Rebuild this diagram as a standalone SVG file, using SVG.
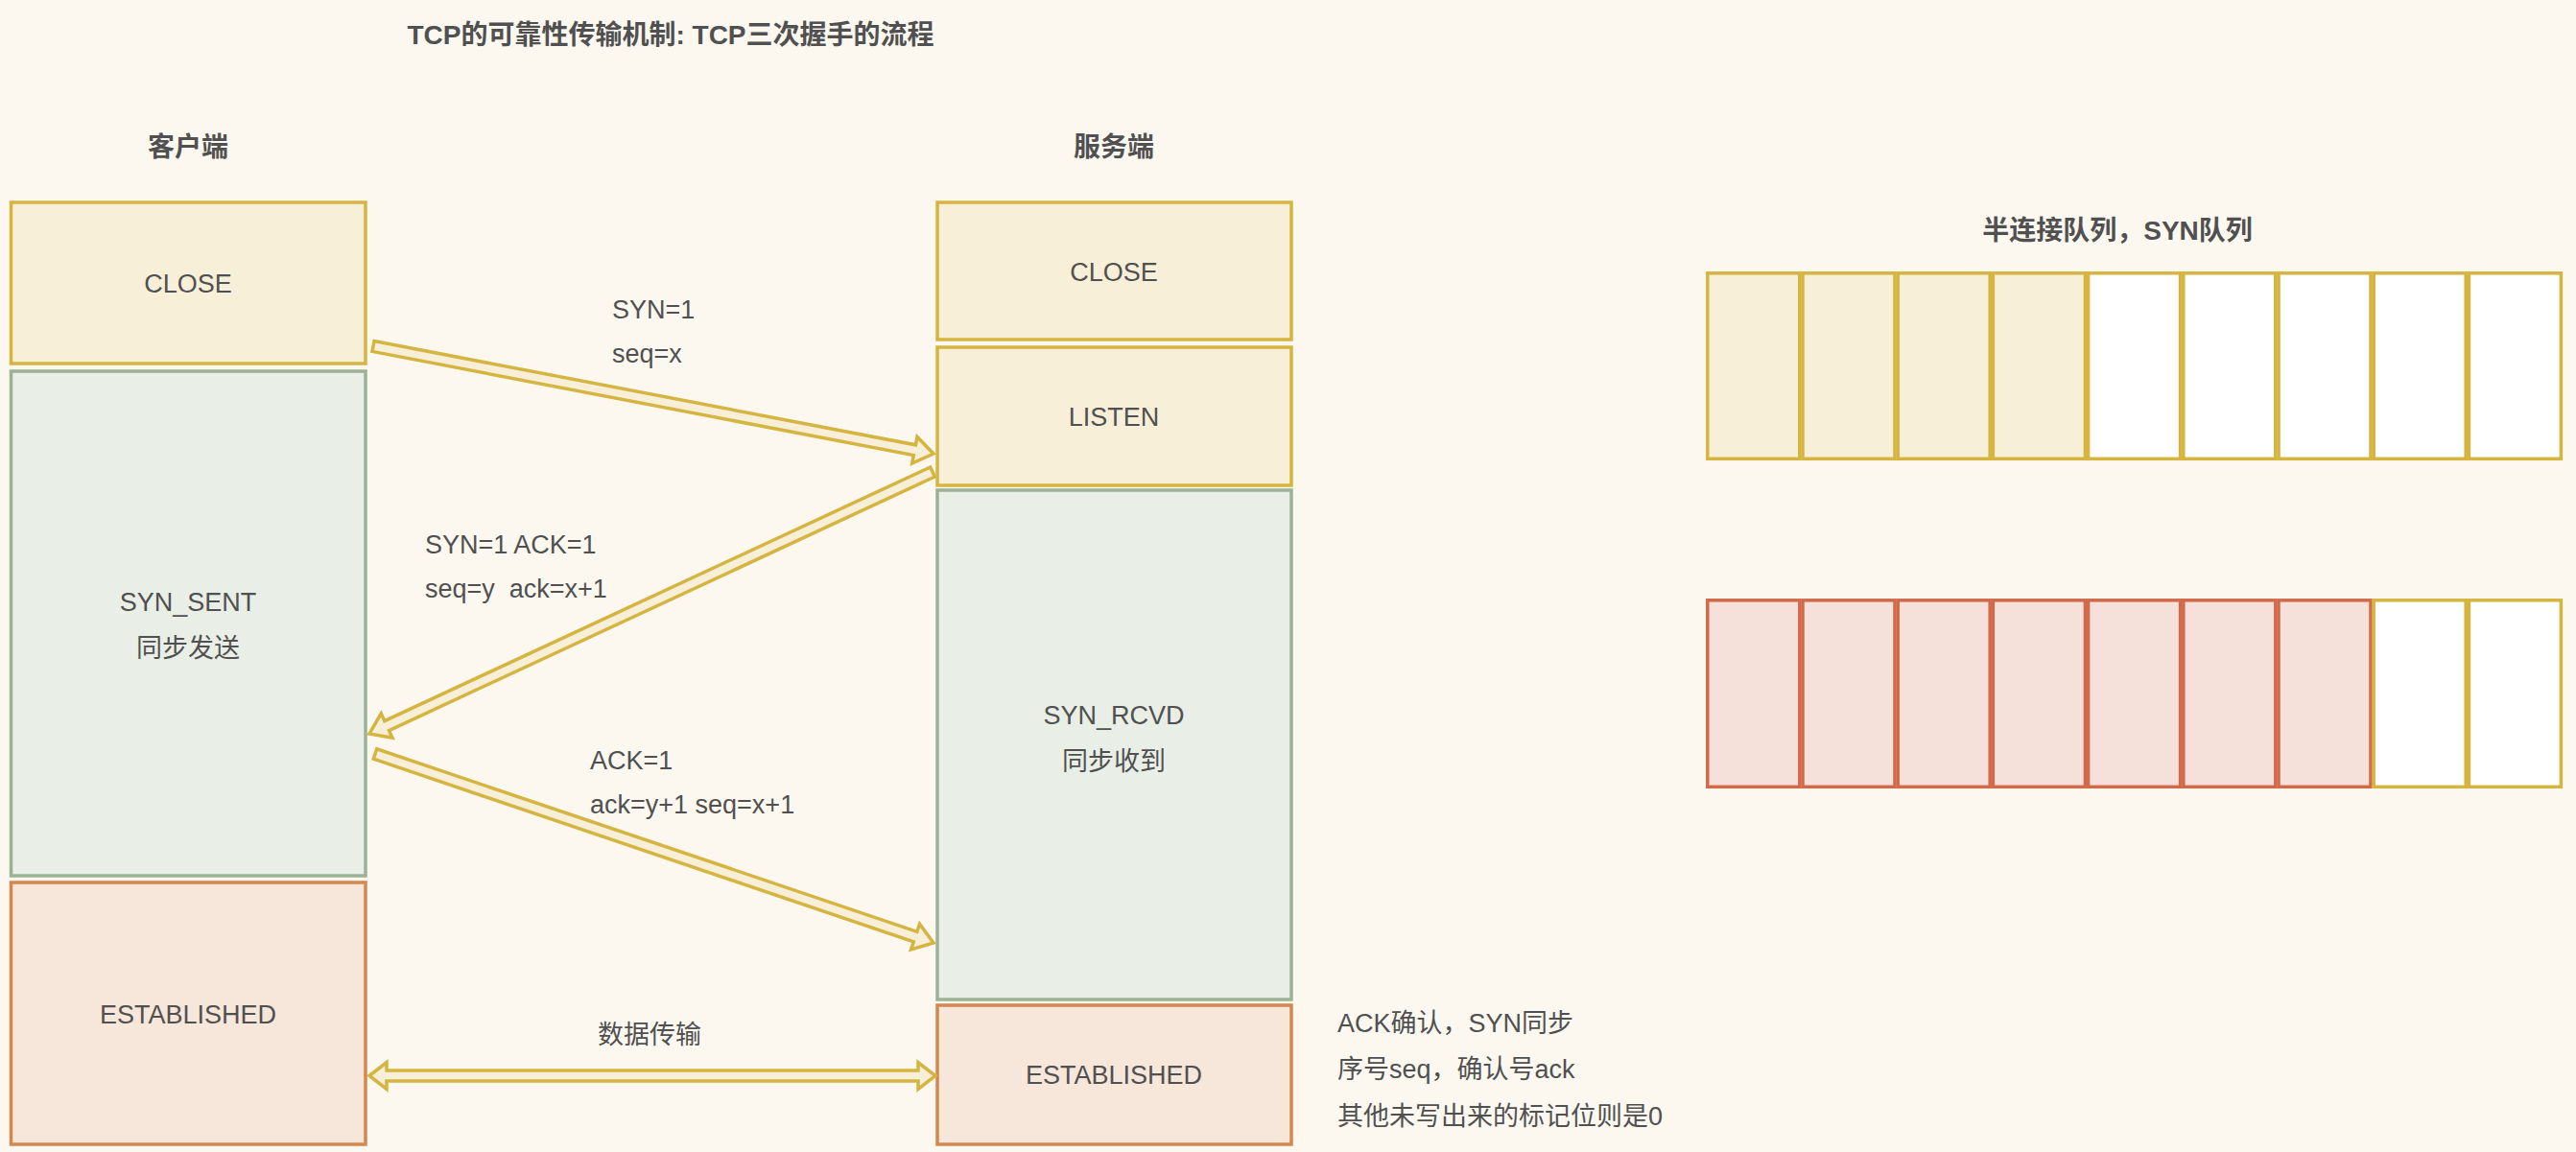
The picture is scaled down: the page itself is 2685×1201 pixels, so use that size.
<svg xmlns="http://www.w3.org/2000/svg" width="2685" height="1201" viewBox="0 0 2685 1201">
<style>
text{font-family:"Liberation Sans","Noto Sans CJK SC",sans-serif;font-size:27px;fill:#505050}
.b{font-weight:bold;font-size:28px}
.m{text-anchor:middle}
.y{fill:#f8efd8;stroke:#d5b43f;stroke-width:3.5}
.g{fill:#e9eee6;stroke:#9ab394;stroke-width:3.5}
.o{fill:#f7e6da;stroke:#d4874e;stroke-width:3.5}
.r{fill:#f5e0da;stroke:#d06a4a;stroke-width:3.5}
.w{fill:#ffffff;stroke:#d5b43f;stroke-width:3.5}
.arr{fill:#f8efd8;stroke:#d5b43f;stroke-width:3.5;stroke-linejoin:miter}
</style>
<rect width="2685" height="1201" fill="#fcf8f0"/>
<text class="b" x="699" y="46" text-anchor="middle">TCP的可靠性传输机制: TCP三次握手的流程</text>
<text class="b m" x="196" y="163">客户端</text>
<text class="b m" x="1161" y="163">服务端</text>
<text class="b m" x="2207" y="250">半连接队列，SYN队列</text>

<g id="client-close"><rect class="y" x="11.5" y="211" width="369.5" height="168"/><text class="m" x="196" y="305">CLOSE</text></g>
<g id="client-syn-sent"><rect class="g" x="11.5" y="387" width="369.5" height="526"/><text class="m" x="196" y="637">SYN_SENT</text><text class="m" x="196" y="685">同步发送</text></g>
<g id="client-established"><rect class="o" x="11.5" y="920" width="369.5" height="273"/><text class="m" x="196" y="1067">ESTABLISHED</text></g>

<g id="server-close"><rect class="y" x="977" y="211" width="369" height="143"/><text class="m" x="1161" y="293">CLOSE</text></g>
<g id="server-listen"><rect class="y" x="977" y="362" width="369" height="144"/><text class="m" x="1161" y="444">LISTEN</text></g>
<g id="server-syn-rcvd"><rect class="g" x="977" y="511" width="369" height="531"/><text class="m" x="1161" y="755">SYN_RCVD</text><text class="m" x="1161" y="803">同步收到</text></g>
<g id="server-established"><rect class="o" x="977" y="1048" width="369" height="145"/><text class="m" x="1161" y="1130">ESTABLISHED</text></g>

<g id="note"><text x="1394" y="1076">ACK确认，SYN同步</text><text x="1394" y="1124">序号seq，确认号ack</text><text x="1394" y="1173">其他未写出来的标记位则是0</text></g>

<g id="syn-queue">
<rect class="y" x="1779.8" y="284.8" width="96" height="193.5"/>
<rect class="y" x="1879" y="284.8" width="96" height="193.5"/>
<rect class="y" x="1978.2" y="284.8" width="96" height="193.5"/>
<rect class="y" x="2077.4" y="284.8" width="96" height="193.5"/>
<rect class="w" x="2176.6" y="284.8" width="96" height="193.5"/>
<rect class="w" x="2275.8" y="284.8" width="96" height="193.5"/>
<rect class="w" x="2375" y="284.8" width="96" height="193.5"/>
<rect class="w" x="2474.2" y="284.8" width="96" height="193.5"/>
<rect class="w" x="2573.4" y="284.8" width="96" height="193.5"/>
</g>
<g id="accept-queue">
<rect class="r" x="1779.8" y="625.8" width="96" height="194.5"/>
<rect class="r" x="1879" y="625.8" width="96" height="194.5"/>
<rect class="r" x="1978.2" y="625.8" width="96" height="194.5"/>
<rect class="r" x="2077.4" y="625.8" width="96" height="194.5"/>
<rect class="r" x="2176.6" y="625.8" width="96" height="194.5"/>
<rect class="r" x="2275.8" y="625.8" width="96" height="194.5"/>
<rect class="r" x="2375" y="625.8" width="96" height="194.5"/>
<rect class="w" x="2474.2" y="625.8" width="96" height="194.5"/>
<rect class="w" x="2573.4" y="625.8" width="96" height="194.5"/>
</g>

<g id="connectors">
<polygon class="arr" points="387.96,366.40 952.32,474.63 950.72,482.98 973,473 956.00,455.48 954.40,463.83 390.04,355.60"/>
<polygon class="arr" points="969.68,487.01 400.81,751.58 397.23,743.88 385,765 409.03,769.26 405.45,761.56 974.32,496.99"/>
<polygon class="arr" points="389.24,791.21 952.29,981.80 949.57,989.85 973,983 958.54,963.33 955.82,971.38 392.76,780.79"/>
<polygon class="arr" points="385,1121.5 403,1107.5 403,1116 957,1116 957,1107.5 975,1121.5 957,1135.5 957,1127 403,1127 403,1135.5"/>
</g>
<g id="labels">
<text x="638" y="332">SYN=1</text><text x="638" y="378">seq=x</text>
<text x="443" y="577">SYN=1 ACK=1</text><text x="443" y="623" xml:space="preserve">seq=y  ack=x+1</text>
<text x="615" y="802">ACK=1</text><text x="615" y="848">ack=y+1 seq=x+1</text>
<text class="m" x="677" y="1088">数据传输</text>
</g>
</svg>
